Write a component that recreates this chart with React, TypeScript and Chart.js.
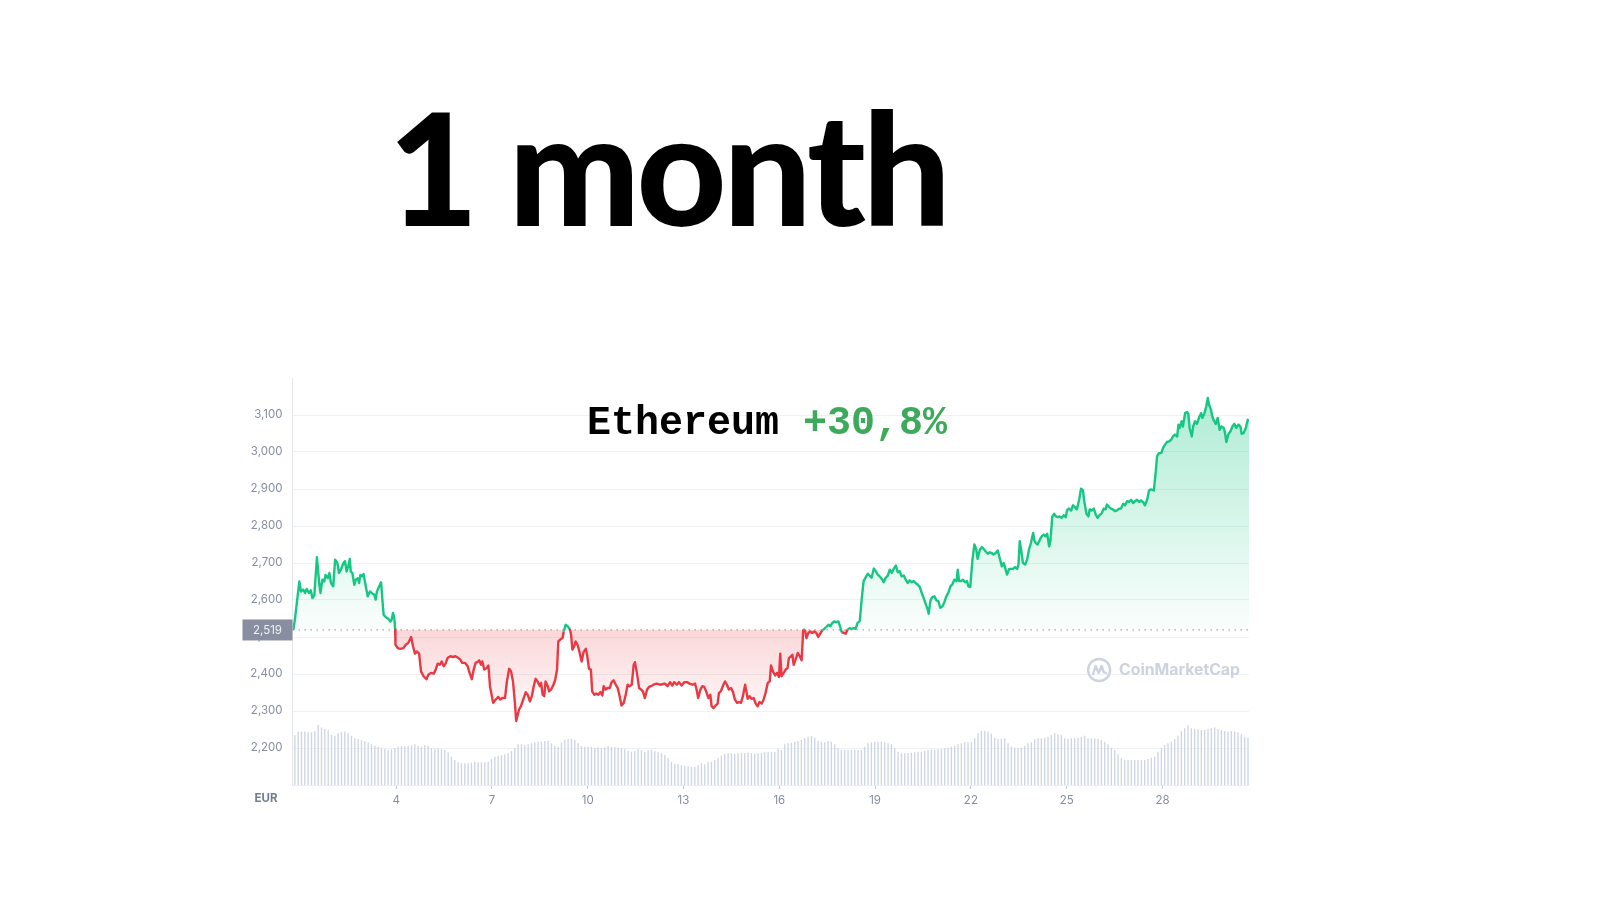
import React, { useEffect, useRef } from "react";
import { Chart, registerables } from "chart.js";

Chart.register(...registerables);

// ---------- data ----------
const TITLE = "1 month";
const COIN_NAME = "Ethereum";
const COIN_CHANGE = "+30,8%";
const CURRENCY = "EUR";
const WATERMARK = "CoinMarketCap";

const BASE_PRICE = 2519; // opening price of the period (dotted reference line)

const X_MIN = 0.755;
const X_MAX = 30.71;
const X_TICKS = [4, 7, 10, 13, 16, 19, 22, 25, 28];

const Y_MIN = 2100;
const Y_MAX = 3200;
const Y_TICKS = [2100, 2200, 2300, 2400, 2500, 2600, 2700, 2800, 2900, 3000, 3100];

// time (day of month) of each price sample
const PRICE_DAY = [
  0.78, 0.83, 0.92, 0.97, 1.02, 1.09, 1.15, 1.2, 1.27, 1.33, 1.38, 1.44, 1.52, 1.59, 1.63, 1.69, 1.75, 1.79, 1.86, 1.91,
  1.96, 2.03, 2.09, 2.16, 2.21, 2.27, 2.35, 2.4, 2.45, 2.5, 2.55, 2.58, 2.63, 2.69, 2.74, 2.8, 2.84, 2.88, 2.94, 2.98,
  3.05, 3.11, 3.18, 3.26, 3.32, 3.36, 3.4, 3.46, 3.53, 3.57, 3.61, 3.67, 3.76, 3.82, 3.86, 3.9, 3.94, 3.97, 3.98, 4.05,
  4.13, 4.23, 4.3, 4.38, 4.47, 4.53, 4.59, 4.65, 4.72, 4.78, 4.86, 4.95, 5.01, 5.09, 5.18, 5.24, 5.3, 5.37, 5.43, 5.49,
  5.55, 5.61, 5.7, 5.78, 5.86, 5.95, 6.01, 6.07, 6.16, 6.24, 6.3, 6.37, 6.43, 6.49, 6.57,
  6.6, 6.66, 6.7, 6.76, 6.84, 6.89, 6.94, 6.99, 7.04, 7.12, 7.2, 7.26, 7.33, 7.41, 7.47, 7.54, 7.6, 7.66, 7.72, 7.76,
  7.85, 7.91, 7.98, 8.06, 8.12, 8.19, 8.25, 8.31, 8.37, 8.43, 8.5, 8.54, 8.59, 8.64, 8.68, 8.75, 8.79, 8.85, 8.91, 8.98,
  9.04, 9.08, 9.14, 9.21, 9.25, 9.31, 9.37, 9.44, 9.48, 9.52, 9.58, 9.62, 9.69, 9.75, 9.81, 9.87, 9.94, 9.98, 10.04, 10.1,
  10.14, 10.21, 10.27, 10.33, 10.4, 10.46, 10.5, 10.56, 10.62, 10.69, 10.75, 10.81, 10.88, 10.94, 11.0, 11.06, 11.13, 11.19, 11.25, 11.31,
  11.38, 11.44, 11.48, 11.54, 11.61, 11.67, 11.73, 11.79, 11.86, 11.92, 11.98, 12.06, 12.16, 12.26, 12.37,
  12.42, 12.5, 12.58, 12.65, 12.71, 12.79, 12.86, 12.94, 13.03, 13.11, 13.19, 13.28, 13.36, 13.41, 13.46, 13.53, 13.59, 13.65, 13.71, 13.78,
  13.84, 13.88, 13.94, 14.01, 14.07, 14.11, 14.17, 14.24, 14.3, 14.36, 14.42, 14.49, 14.55, 14.61, 14.68, 14.74, 14.8, 14.86, 14.93, 14.97,
  15.01, 15.07, 15.13, 15.2, 15.26, 15.32, 15.38, 15.45, 15.51, 15.57, 15.64, 15.7, 15.74, 15.8, 15.87, 15.93, 15.99, 16.03, 16.07, 16.14,
  16.2, 16.26, 16.3, 16.37, 16.41, 16.45, 16.51, 16.58, 16.64, 16.7, 16.75, 16.8, 16.85, 16.91, 16.97, 17.03, 17.1, 17.16, 17.22, 17.28,
  17.35, 17.41, 17.47, 17.54, 17.6, 17.66, 17.72, 17.79, 17.85, 17.91, 17.95, 18.02, 18.08, 18.14, 18.2, 18.27, 18.33, 18.39, 18.45,
  18.52, 18.58, 18.64, 18.71, 18.77, 18.83, 18.89, 18.96, 19.02, 19.08, 19.14, 19.21, 19.27, 19.33, 19.4, 19.46, 19.52, 19.58, 19.65, 19.71,
  19.77, 19.83, 19.9, 19.96, 20.02, 20.08, 20.15, 20.21, 20.27, 20.33, 20.4, 20.46, 20.52, 20.59, 20.65, 20.68, 20.73, 20.79, 20.86, 20.92,
  20.98, 21.04, 21.11, 21.17, 21.23, 21.3, 21.36, 21.42, 21.48, 21.55, 21.59, 21.63, 21.69, 21.75, 21.82, 21.88, 21.92, 21.98, 22.05, 22.11,
  22.17, 22.21, 22.28, 22.34, 22.4, 22.46, 22.53, 22.59, 22.65, 22.71, 22.78, 22.84, 22.9, 22.97, 23.03, 23.09, 23.13, 23.2, 23.26, 23.32,
  23.38, 23.45, 23.49, 23.53, 23.57, 23.63, 23.7, 23.76, 23.82, 23.88, 23.95, 23.99, 24.03, 24.09, 24.16, 24.22, 24.28, 24.34, 24.39, 24.45,
  24.49, 24.55, 24.61,
  24.66, 24.72, 24.78, 24.84, 24.91, 24.97, 25.01, 25.07, 25.14, 25.2, 25.26, 25.32, 25.39, 25.45, 25.51, 25.55, 25.62, 25.68, 25.72, 25.78,
  25.85, 25.91, 25.97, 26.03, 26.1, 26.16, 26.22, 26.26, 26.33, 26.39, 26.45, 26.51, 26.58, 26.64, 26.7, 26.77, 26.83, 26.89, 26.95, 27.02,
  27.08, 27.14, 27.2, 27.27, 27.33, 27.39, 27.45, 27.52, 27.58, 27.64, 27.73, 27.79, 27.83, 27.89, 27.96, 28.02, 28.08, 28.14, 28.21, 28.27,
  28.33, 28.39, 28.46, 28.5, 28.54, 28.6, 28.64, 28.71, 28.77, 28.81, 28.85, 28.92, 28.96, 29.02, 29.08, 29.15, 29.21, 29.25, 29.31, 29.37,
  29.42, 29.46, 29.52, 29.56, 29.6, 29.67, 29.73, 29.79, 29.85, 29.92, 29.96, 30.0, 30.06, 30.13, 30.19, 30.25, 30.31, 30.38, 30.44, 30.48,
  30.54, 30.61, 30.67, 30.71,
];

// ETH price in EUR at each sample
const PRICE_EUR = [
  2519, 2547, 2614, 2650, 2623, 2628, 2619, 2630, 2619, 2626, 2605, 2614, 2716, 2646, 2619, 2655, 2650, 2668, 2659, 2673,
  2646, 2637, 2709, 2700, 2673, 2682, 2700, 2705, 2677, 2691, 2711, 2677, 2673, 2641, 2655, 2659, 2646, 2668, 2664, 2670,
  2637, 2610, 2623, 2617, 2614, 2601, 2623, 2635, 2648, 2601, 2560, 2554, 2549, 2542, 2547, 2565, 2554, 2520, 2479, 2470,
  2468, 2470, 2479, 2484, 2500, 2475, 2455, 2461, 2455, 2407, 2394, 2386, 2398, 2403, 2401, 2412, 2428, 2425, 2434, 2421,
  2428, 2443, 2448, 2446, 2448, 2443, 2439, 2430, 2430, 2421, 2403, 2386, 2412, 2430, 2434,
  2437, 2425, 2434, 2412, 2416, 2423, 2367, 2344, 2322, 2331, 2338, 2331, 2335, 2335, 2380, 2414, 2407, 2380, 2322, 2273,
  2304, 2313, 2331, 2351, 2344, 2326, 2340, 2367, 2387, 2380, 2367, 2376, 2344, 2340, 2380, 2367, 2353, 2358, 2367, 2383,
  2412, 2488, 2493, 2497, 2515, 2533, 2529, 2522, 2506, 2466, 2475, 2488, 2477, 2457, 2434, 2459, 2468, 2452, 2414, 2412,
  2353, 2344, 2347, 2344, 2351, 2342, 2367, 2358, 2362, 2362, 2378, 2383, 2371, 2362, 2340, 2315, 2322, 2344, 2371, 2367,
  2371, 2425, 2432, 2403, 2362, 2358, 2353, 2335, 2358, 2365, 2367, 2371, 2374, 2371, 2373,
  2374, 2367, 2378, 2369, 2378, 2371, 2378, 2369, 2378, 2378, 2374, 2371, 2374, 2358, 2335, 2358, 2367, 2365, 2353, 2335,
  2344, 2313, 2308, 2315, 2320, 2349, 2353, 2369, 2380, 2371, 2358, 2362, 2351, 2331, 2322, 2324, 2322, 2340, 2371, 2353,
  2333, 2340, 2333, 2335, 2320, 2313, 2324, 2320, 2331, 2349, 2376, 2380, 2423, 2407, 2396, 2403, 2392, 2455, 2394, 2403,
  2412, 2416, 2443, 2448, 2452, 2425, 2439, 2457, 2448, 2437, 2520, 2520, 2497, 2511, 2515, 2511, 2515, 2511, 2500, 2509,
  2518, 2522, 2527, 2533, 2529, 2538, 2542, 2540, 2542, 2527, 2513, 2511, 2509, 2520, 2524, 2522, 2524, 2522, 2538,
  2543, 2601, 2651, 2662, 2671, 2666, 2660, 2685, 2678, 2669, 2664, 2657, 2648, 2660, 2666, 2682, 2673, 2684, 2693, 2675,
  2678, 2664, 2666, 2655, 2646, 2653, 2648, 2651, 2646, 2642, 2635, 2619, 2606, 2588, 2574, 2563, 2597, 2608, 2610, 2599,
  2597, 2579, 2583, 2594, 2610, 2621, 2637, 2642, 2655, 2651, 2682, 2651, 2651, 2655, 2648, 2651, 2637, 2635, 2709, 2750,
  2736, 2711, 2736, 2743, 2738, 2732, 2725, 2729, 2727, 2723, 2727, 2734, 2714, 2691, 2700, 2682, 2669, 2684, 2684, 2684,
  2689, 2684, 2696, 2759, 2738, 2700, 2696, 2709, 2736, 2754, 2781, 2761, 2754, 2750, 2763, 2772, 2777, 2772, 2779, 2745,
  2759, 2826, 2833,
  2826, 2824, 2826, 2822, 2829, 2824, 2842, 2847, 2842, 2856, 2851, 2845, 2871, 2901, 2896, 2867, 2833, 2826, 2845, 2842,
  2847, 2831, 2822, 2829, 2835, 2847, 2845, 2858, 2851, 2847, 2845, 2840, 2842, 2847, 2847, 2860, 2856, 2867, 2865, 2871,
  2862, 2867, 2871, 2865, 2869, 2865, 2856, 2871, 2896, 2899, 2896, 2946, 2988, 2997, 2997, 3011, 3020, 3027, 3029, 3033,
  3042, 3047, 3042, 3074, 3065, 3083, 3069, 3105, 3108, 3103, 3065, 3042, 3069, 3083, 3076, 3094, 3105, 3092, 3103, 3123,
  3146, 3128, 3114, 3096, 3087, 3076, 3092, 3060, 3069, 3065, 3051, 3027, 3047, 3056, 3069, 3076, 3065, 3074, 3069, 3049,
  3051, 3065, 3087, 3083,
];

// trading volume (bn EUR) per bar, evenly spaced over the month
const VOLUME_BN = [
  15.0, 16.0, 16.0, 16.0, 15.8, 15.8, 16.2, 18.0, 17.2, 16.8,
  16.5, 15.0, 14.8, 15.5, 15.8, 16.0, 15.5, 14.8, 14.0, 13.8,
  13.5, 13.2, 12.8, 12.2, 11.8, 11.4, 11.2, 10.8, 10.6, 10.7,
  11.0, 11.5, 11.8, 11.7, 11.8, 11.9, 12.2, 11.8, 11.5, 12.0,
  11.8, 11.0, 10.8, 11.0, 10.7, 10.5, 9.8, 8.5, 7.5, 6.8,
  6.5, 6.5, 6.5, 6.7, 7.0, 6.8, 6.8, 6.8, 7.0, 7.8,
  8.5, 8.8, 9.0, 9.2, 9.5, 10.2, 11.2, 12.2, 12.2, 12.0,
  12.2, 12.5, 12.8, 13.0, 13.0, 13.2, 13.3, 12.5, 11.8, 11.5,
  12.8, 13.5, 13.8, 13.8, 13.5, 12.5, 11.7, 11.5, 11.5, 11.5,
  11.2, 11.3, 11.1, 11.3, 11.7, 11.5, 11.3, 11.2, 11.0, 10.7,
  10.2, 10.0, 10.2, 10.7, 10.4, 10.0, 10.4, 10.5, 10.2, 9.8,
  9.5, 9.0, 8.0, 7.0, 6.4, 6.2, 6.0, 5.8, 5.6, 5.5,
  5.5, 6.0, 6.5, 6.2, 6.8, 7.0, 7.5, 8.0, 8.8, 9.2,
  9.5, 9.5, 9.4, 9.5, 9.6, 9.6, 9.7, 9.5, 9.4, 9.5,
  9.6, 9.8, 10.0, 10.0,
  10.0, 10.8, 10.5, 12.2, 12.5, 12.7, 13.0, 13.2, 13.5, 14.0,
  14.5, 14.7, 14.2, 13.2, 13.0, 12.8, 13.2, 13.0, 12.2, 11.0,
  10.5, 10.5, 10.5, 10.5, 10.5, 10.5, 10.4, 11.5, 12.5, 12.8,
  13.0, 13.0, 13.0, 12.8, 12.5, 12.2, 11.2, 10.0, 9.5, 9.5,
  9.6, 9.7, 9.8, 10.0, 10.0, 10.2, 10.5, 10.7, 10.6, 10.8,
  10.8, 11.0, 11.2, 11.5, 11.8, 12.2, 12.5, 12.8, 12.8, 12.8,
  14.0, 15.5, 16.2, 16.2, 16.0, 15.4, 14.2, 13.8, 13.8, 14.0,
  12.5, 11.5, 11.2, 11.0, 11.2, 11.8, 12.5, 12.8, 13.7, 14.0,
  14.0, 14.2, 14.5, 15.0, 15.5, 15.2, 15.0, 14.0, 13.8, 14.0,
  14.0, 14.2, 14.5, 14.8, 14.0, 14.0, 14.0, 13.8, 13.5, 13.0,
  12.2, 11.2, 10.5, 9.2, 8.0, 7.5, 7.5, 7.5, 7.5, 7.5,
  7.5, 7.5, 7.8, 8.2, 8.5, 10.0, 11.2, 12.0, 12.5, 13.0,
  13.8, 14.8, 16.2, 17.0, 17.8, 17.0, 16.8, 16.6, 16.5, 16.5,
  16.8, 17.0, 17.2, 16.8, 16.5, 16.2, 16.0, 16.2, 16.0, 15.8,
  15.2, 14.5, 14.2,
];
const VOLUME_MAX_AXIS = 122;

// ---------- styles ----------
const GREEN = "#16c784";
const RED = "#ea3943";
const GRID = "#eff2f5";
const TICK_TEXT = "#858ea1";
const TICK_FONT = "Inter, 'Noto Sans', sans-serif";

function drawLogo(ctx: CanvasRenderingContext2D, cx: number, cy: number, color: string) {
  ctx.save();
  ctx.strokeStyle = color;
  ctx.lineWidth = 2.4;
  ctx.lineCap = "round";
  ctx.lineJoin = "round";
  ctx.beginPath();
  ctx.arc(cx, cy, 11, 0, Math.PI * 2);
  ctx.stroke();
  ctx.beginPath();
  ctx.moveTo(cx - 6, cy + 4);
  ctx.lineTo(cx - 3.5, cy - 4);
  ctx.lineTo(cx - 0.5, cy + 3);
  ctx.lineTo(cx + 2.5, cy - 4);
  ctx.lineTo(cx + 4.5, cy + 2);
  ctx.lineTo(cx + 7, cy + 3);
  ctx.stroke();
  ctx.restore();
}

const decorPlugin = {
  id: "decor",
  beforeDatasetsDraw(chart: any) {
    const { ctx, chartArea, scales } = chart;
    const y = scales.y.getPixelForValue(BASE_PRICE);
    ctx.save();
    ctx.strokeStyle = "#9aa3b4";
    ctx.lineWidth = 1.2;
    ctx.setLineDash([1.4, 4.6]);
    ctx.beginPath();
    ctx.moveTo(chartArea.left, y);
    ctx.lineTo(chartArea.right, y);
    ctx.stroke();
    ctx.restore();
  },
  afterDraw(chart: any) {
    const { ctx, chartArea, scales } = chart;
    const y = scales.y.getPixelForValue(BASE_PRICE);
    ctx.save();
    // price tag
    ctx.fillStyle = "#888e9f";
    ctx.fillRect(chartArea.left - 50, y - 10.5, 50, 21);
    ctx.fillStyle = "#eef0f4";
    ctx.font = `11.5px ${TICK_FONT}`;
    ctx.textAlign = "center";
    ctx.textBaseline = "middle";
    ctx.fillText(BASE_PRICE.toLocaleString("en-US"), chartArea.left - 25, y + 0.5);
    // currency label
    ctx.fillStyle = "#737d90";
    ctx.font = `700 11.5px ${TICK_FONT}`;
    ctx.fillText(CURRENCY, chartArea.left - 26.5, chartArea.bottom + 14);
    // watermark
    const wmColor = "#cdd3de";
    ctx.font = `700 15.8px ${TICK_FONT}`;
    ctx.fillStyle = wmColor;
    ctx.textAlign = "right";
    const wy = chartArea.top + 292;
    ctx.fillText(WATERMARK, chartArea.right - 9, wy);
    const w = ctx.measureText(WATERMARK).width;
    drawLogo(ctx, chartArea.right - 9 - w - 20, wy, wmColor);
    ctx.restore();
  },
};

function PriceChart() {
  const ref = useRef<HTMLCanvasElement | null>(null);
  useEffect(() => {
    if (!ref.current) return;
    const points = PRICE_DAY.map((d, i) => ({ x: d, y: PRICE_EUR[i] }));
    const volumeLabels = VOLUME_BN.map((_, i) => String(i));
    const chart = new Chart(ref.current, {
      type: "line",
      data: {
        datasets: [
          {
            type: "line",
            data: points,
            xAxisID: "x",
            yAxisID: "y",
            borderWidth: 2.4,
            borderColor: GREEN,
            borderJoinStyle: "round",
            pointRadius: 0,
            tension: 0,
            order: 1,
            fill: { target: { value: BASE_PRICE }, above: "rgba(22,199,132,0.12)", below: "rgba(234,57,67,0.1)" },
            segment: {
              borderColor: (c: any) => ((c.p0.parsed.y + c.p1.parsed.y) / 2 >= BASE_PRICE ? GREEN : RED),
            },
          } as any,
          {
            type: "bar",
            data: VOLUME_BN,
            xAxisID: "xv",
            yAxisID: "yv",
            backgroundColor: "#cdd5e3",
            barPercentage: 1,
            categoryPercentage: 0.8,
            order: 2,
          } as any,
        ],
      },
      options: {
        responsive: false,
        animation: false,
        events: [],
        layout: { padding: { top: 18, right: 21, left: 0, bottom: 0 } },
        plugins: { legend: { display: false }, tooltip: { enabled: false }, title: { display: false } },
        scales: {
          x: {
            type: "linear",
            min: X_MIN,
            max: X_MAX,
            afterBuildTicks: (s: any) => {
              s.ticks = X_TICKS.map((v) => ({ value: v }));
            },
            afterFit: (s: any) => {
              s.height = 35;
            },
            grid: { drawOnChartArea: false, drawTicks: true, tickLength: 4, color: "#c3c9d4" },
            border: { display: true, color: "#eceff3" },
            ticks: {
              padding: 5,
              color: TICK_TEXT,
              font: { family: TICK_FONT, size: 11.5 },
              maxRotation: 0,
              autoSkip: false,
              callback: (v: any) => String(v),
            },
          },
          y: {
            type: "linear",
            position: "left",
            min: Y_MIN,
            max: Y_MAX,
            afterBuildTicks: (s: any) => {
              s.ticks = Y_TICKS.map((v) => ({ value: v }));
            },
            afterFit: (s: any) => {
              s.width = 62.5;
            },
            grid: { color: GRID, drawTicks: false, lineWidth: 1 },
            border: { display: true, color: "#e4e8ed" },
            ticks: {
              padding: 10,
              color: TICK_TEXT,
              font: { family: TICK_FONT, size: 11.5 },
              callback: (v: any) => (v === Y_MIN ? "" : Number(v).toLocaleString("en-US")),
            },
          },
          xv: { type: "category", labels: volumeLabels, display: false, offset: true },
          yv: { type: "linear", min: 0, max: VOLUME_MAX_AXIS, display: false },
        } as any,
      },
      plugins: [decorPlugin],
    } as any);

    // gradient fills need the resolved chart geometry
    const area = chart.chartArea;
    const ys = chart.scales.y;
    const basePx = ys.getPixelForValue(BASE_PRICE);
    const gUp = chart.ctx.createLinearGradient(0, area.top + 20, 0, basePx);
    gUp.addColorStop(0, "rgba(22,199,132,0.34)");
    gUp.addColorStop(1, "rgba(22,199,132,0.02)");
    const gDown = chart.ctx.createLinearGradient(0, basePx, 0, ys.getPixelForValue(2270));
    gDown.addColorStop(0, "rgba(234,57,67,0.2)");
    gDown.addColorStop(1, "rgba(234,57,67,0.02)");
    (chart.data.datasets[0] as any).fill = { target: { value: BASE_PRICE }, above: gUp, below: gDown };
    chart.update("none");

    return () => chart.destroy();
  }, []);
  return (
    <canvas
      ref={ref}
      width={1040}
      height={460}
      style={{ position: "absolute", left: 230, top: 360, width: 1040, height: 460 }}
    />
  );
}

export default function App() {
  return (
    <div style={{ position: "absolute", left: 0, top: 0, width: 1600, height: 900, background: "#fff", overflow: "hidden" }}>
      <div
        style={{
          position: "absolute",
          left: 388,
          top: 88,
          fontFamily: "Lato, sans-serif",
          fontWeight: 900,
          fontSize: 156,
          lineHeight: 1,
          letterSpacing: -3.5,
          color: "#000",
          whiteSpace: "nowrap",
        }}
      >
        {TITLE}
      </div>
      <div
        style={{
          position: "absolute",
          left: 587,
          top: 404,
          fontFamily: "'Liberation Mono', 'Courier New', monospace",
          fontWeight: 700,
          fontSize: 40,
          lineHeight: 1,
          color: "#000",
          whiteSpace: "pre",
          zIndex: 2,
        }}
      >
        <span>{COIN_NAME} </span>
        <span style={{ color: "#3caa5a" }}>{COIN_CHANGE}</span>
      </div>
      <PriceChart />
    </div>
  );
}
